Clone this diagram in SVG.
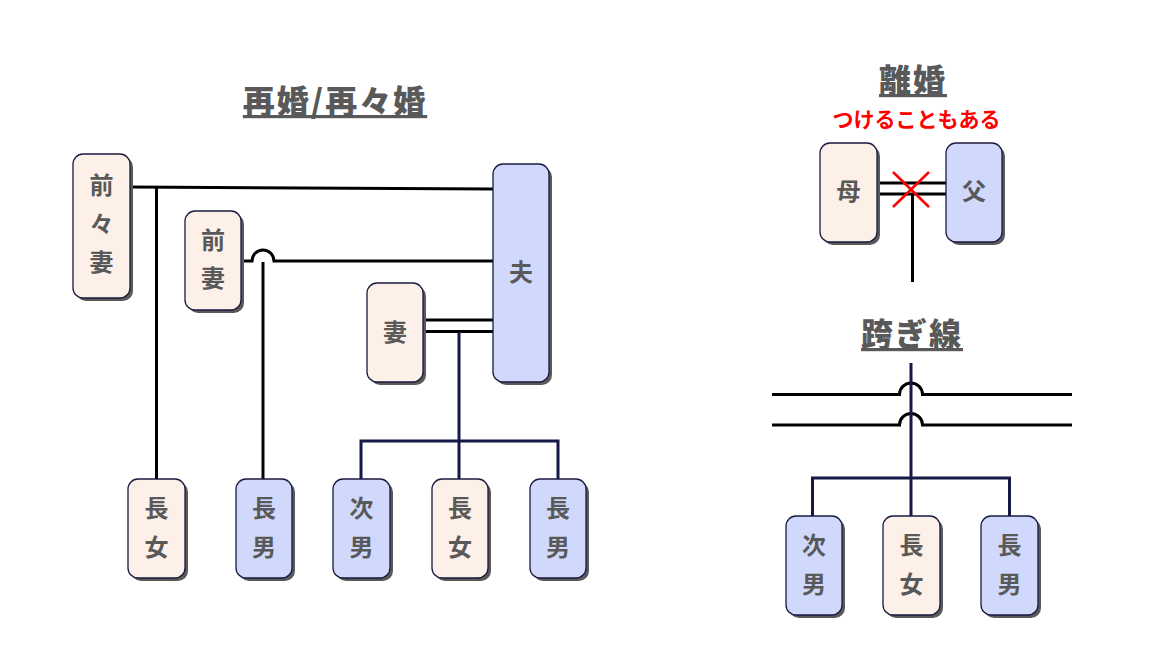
<svg xmlns="http://www.w3.org/2000/svg" width="1151" height="672" viewBox="0 0 1151 672">
<style>
.f{fill:#fdf0e8;stroke:#1a1a40;stroke-width:1.3}
.m{fill:#d0d8fc;stroke:#1a1a40;stroke-width:1.3}
.sh{fill:#5a5a5a}
.t{font-family:"Noto Sans CJK JP","Noto Sans",sans-serif;font-weight:bold;font-size:24px;fill:#595959;text-anchor:middle}
.ttl{font-family:"Noto Sans CJK JP","Noto Sans",sans-serif;font-weight:900;font-size:32px;letter-spacing:2px;fill:#595959;text-anchor:middle;text-decoration:underline}
.k{fill:none;stroke:#000;stroke-width:3}
.n{fill:none;stroke:#141a45;stroke-width:3}
</style>
<rect width="1151" height="672" fill="#fff"/>
<g id="titles">
<text class="ttl" x="335" y="113">再婚/再々婚</text>
<text class="ttl" x="913" y="92">離婚</text>
<text x="916.5" y="127" font-family="'Noto Sans CJK JP',sans-serif" font-weight="bold" font-size="21" fill="#ff0000" text-anchor="middle">つけることもある</text>
<text class="ttl" x="912" y="346">跨ぎ線</text>
</g>
<g id="connectors">
<line class="k" x1="130" y1="187" x2="493" y2="189"/>
<line class="k" x1="156.5" y1="187" x2="156.5" y2="479"/>
<path class="k" d="M241 261 H252 A11 11 0 0 1 274 261 H493"/>
<line class="k" x1="263" y1="262" x2="263" y2="479"/>
<line class="k" x1="423" y1="320" x2="493" y2="320"/>
<line class="k" x1="423" y1="331.5" x2="493" y2="331.5"/>
<path class="n" d="M459 332 V441 M361 479 V441 H558 V479 M459 441 V479"/>
<line class="k" x1="877" y1="183" x2="946" y2="183"/>
<line class="k" x1="877" y1="194" x2="946" y2="194"/>
<line class="k" x1="912.5" y1="194" x2="912.5" y2="282"/>
<path d="M893 172 L929 207 M929 172 L893 207" stroke="#ff0000" stroke-width="2.5" fill="none"/>
<path class="k" d="M772 394.5 H899.5 A11.5 11.5 0 0 1 922.5 394.5 H1072"/>
<path class="k" d="M772 425 H899.5 A11.5 11.5 0 0 1 922.5 425 H1072"/>
<path class="n" d="M911 363 V516 M812.5 516 V478 H1009.5 V516"/>
</g>
<g id="n-zenzensai">
<rect class="sh" x="76" y="157" width="57" height="144" rx="10"/>
<rect class="f" x="73" y="154" width="57" height="144" rx="10"/>
<text class="t" x="101.5" y="194">前</text><text class="t" x="101.5" y="233">々</text><text class="t" x="101.5" y="271">妻</text>
</g>
<g id="n-zensai">
<rect class="sh" x="188" y="214" width="56" height="99" rx="10"/>
<rect class="f" x="185" y="211" width="56" height="99" rx="10"/>
<text class="t" x="213" y="249">前</text><text class="t" x="213" y="287">妻</text>
</g>
<g id="n-tsuma">
<rect class="sh" x="370" y="286" width="56" height="99" rx="10"/>
<rect class="f" x="367" y="283" width="56" height="99" rx="10"/>
<text class="t" x="395" y="341">妻</text>
</g>
<g id="n-otto">
<rect class="sh" x="496" y="167" width="56" height="218" rx="10"/>
<rect class="m" x="493" y="164" width="56" height="218" rx="10"/>
<text class="t" x="521" y="281">夫</text>
</g>
<g id="n-chojo1">
<rect class="sh" x="131" y="482" width="57" height="99" rx="10"/>
<rect class="f" x="128" y="479" width="57" height="99" rx="10"/>
<text class="t" x="156.5" y="517">長</text><text class="t" x="156.5" y="556">女</text>
</g>
<g id="n-chonan1">
<rect class="sh" x="239" y="482" width="56" height="99" rx="10"/>
<rect class="m" x="236" y="479" width="56" height="99" rx="10"/>
<text class="t" x="264" y="517">長</text><text class="t" x="264" y="556">男</text>
</g>
<g id="n-jinan1">
<rect class="sh" x="336" y="482" width="57" height="99" rx="10"/>
<rect class="m" x="333" y="479" width="57" height="99" rx="10"/>
<text class="t" x="361.5" y="517">次</text><text class="t" x="361.5" y="556">男</text>
</g>
<g id="n-chojo2">
<rect class="sh" x="435" y="482" width="56" height="99" rx="10"/>
<rect class="f" x="432" y="479" width="56" height="99" rx="10"/>
<text class="t" x="460" y="517">長</text><text class="t" x="460" y="556">女</text>
</g>
<g id="n-chonan2">
<rect class="sh" x="533" y="482" width="56" height="99" rx="10"/>
<rect class="m" x="530" y="479" width="56" height="99" rx="10"/>
<text class="t" x="558" y="517">長</text><text class="t" x="558" y="556">男</text>
</g>
<g id="n-haha">
<rect class="sh" x="823" y="146" width="57" height="99" rx="10"/>
<rect class="f" x="820" y="143" width="57" height="99" rx="10"/>
<text class="t" x="848.5" y="200">母</text>
</g>
<g id="n-chichi">
<rect class="sh" x="949" y="146" width="56" height="99" rx="10"/>
<rect class="m" x="946" y="143" width="56" height="99" rx="10"/>
<text class="t" x="974" y="200">父</text>
</g>
<g id="n-jinan2">
<rect class="sh" x="789" y="519" width="56" height="99" rx="10"/>
<rect class="m" x="786" y="516" width="56" height="99" rx="10"/>
<text class="t" x="814" y="554">次</text><text class="t" x="814" y="593">男</text>
</g>
<g id="n-chojo3">
<rect class="sh" x="886" y="519" width="57" height="99" rx="10"/>
<rect class="f" x="883" y="516" width="57" height="99" rx="10"/>
<text class="t" x="911.5" y="554">長</text><text class="t" x="911.5" y="593">女</text>
</g>
<g id="n-chonan3">
<rect class="sh" x="984" y="519" width="57" height="99" rx="10"/>
<rect class="m" x="981" y="516" width="57" height="99" rx="10"/>
<text class="t" x="1009.5" y="554">長</text><text class="t" x="1009.5" y="593">男</text>
</g>
</svg>
